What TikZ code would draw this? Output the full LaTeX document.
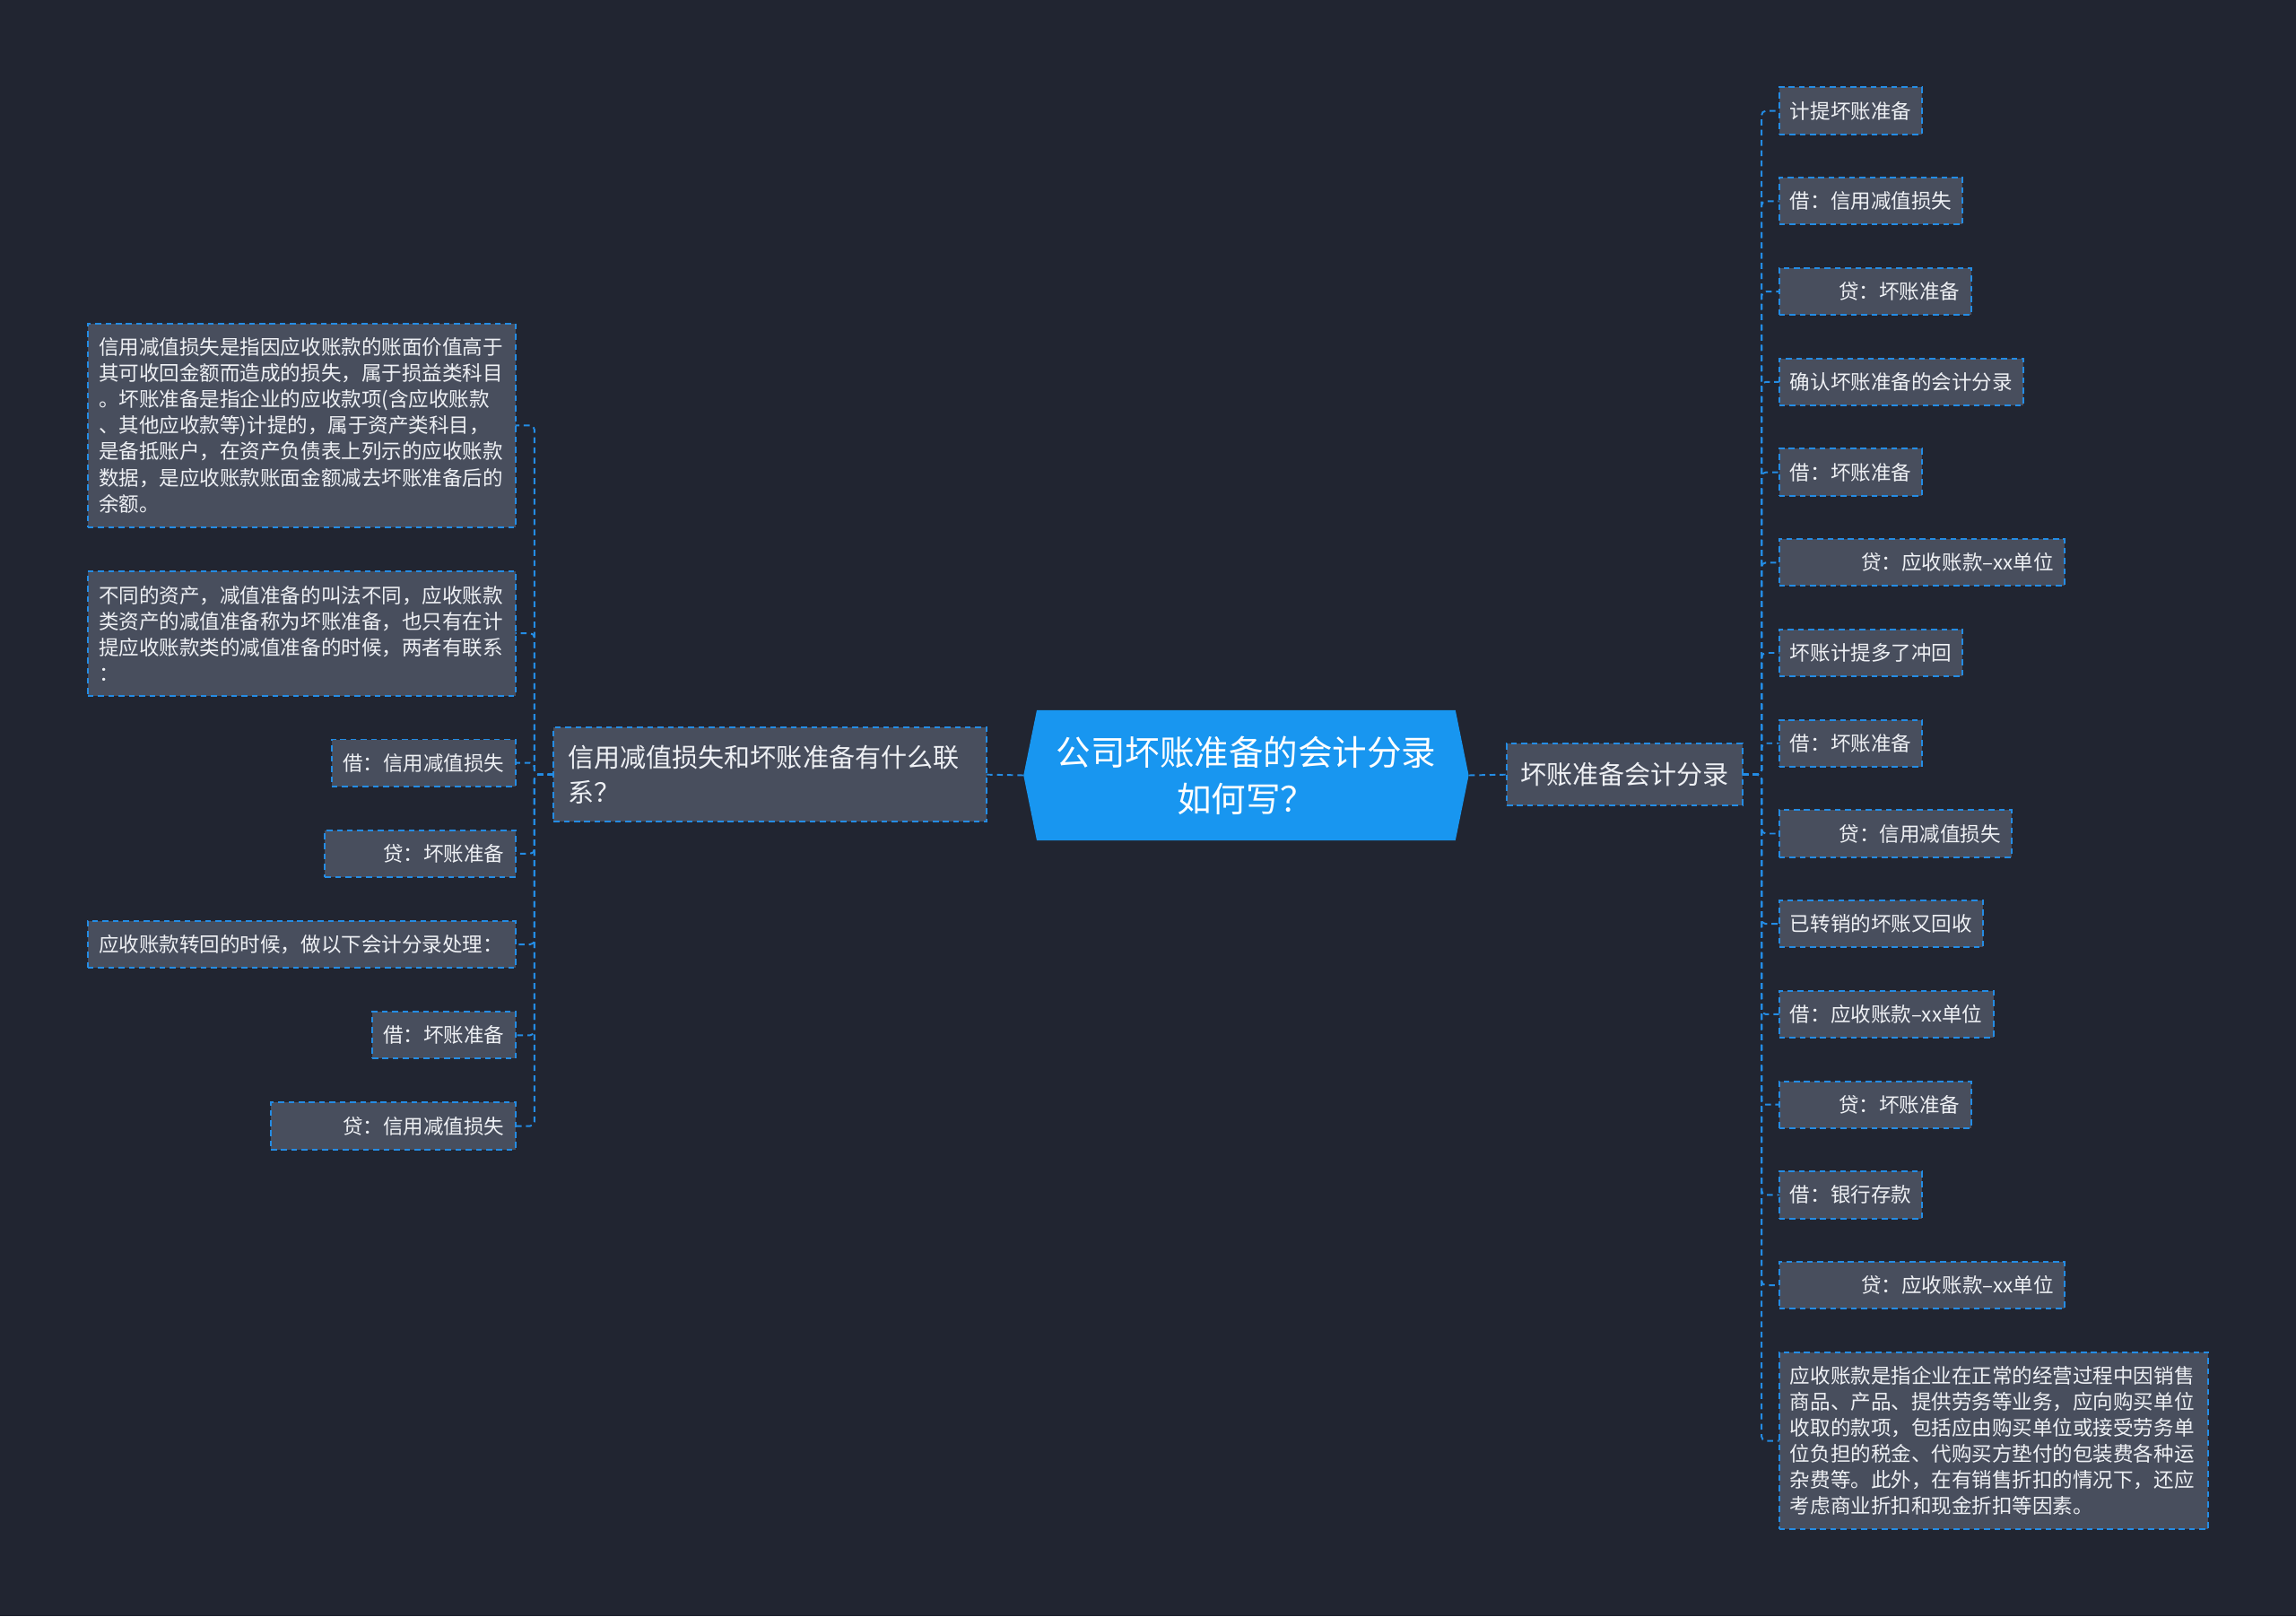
\documentclass[tikz,border=0pt]{standalone}
\usepackage{fontspec}
\setmainfont{Noto Sans CJK SC}
\usetikzlibrary{positioning,shapes.symbols}
\definecolor{bgdark}{RGB}{33,37,49}
\definecolor{nodegray}{RGB}{72,78,93}
\definecolor{lineblue}{RGB}{36,140,228}
\definecolor{rootblue}{RGB}{24,150,240}
\definecolor{textwhite}{RGB}{238,240,244}

\begin{document}
\begin{tikzpicture}[
    x=1pt, y=-1pt,
    root/.style={
        shape=signal,
        signal to=west and east,
        signal pointer angle=157,
        fill=rootblue,
        minimum width=304pt,
        minimum height=89pt,
        inner sep=0pt,
        align=center,
        text=white,
        font=\fontsize{23.6pt}{32pt}\selectfont
    },
    branch/.style={
        draw=lineblue,
        line width=1.2pt,
        dash pattern=on 4pt off 3pt,
        fill=nodegray,
        text=textwhite,
        inner xsep=9.3pt,
        outer sep=0pt,
        minimum height=42pt,
        font=\fontsize{17.8pt}{24pt}\selectfont
    },
    leaf/.style={
        draw=lineblue,
        line width=1.2pt,
        dash pattern=on 4pt off 3pt,
        fill=nodegray,
        text=textwhite,
        inner xsep=7.5pt,
        outer sep=0pt,
        minimum height=32pt,
        font=\fontsize{13.8pt}{17.8pt}\selectfont
    },
    para/.style={
        leaf,
        text width=277pt,
        align=left,
        inner ysep=5pt
    },
    conn/.style={
        draw=lineblue,
        line width=1.2pt,
        dash pattern=on 4pt off 3pt,
        rounded corners=3pt
    }
]

\useasboundingbox (0,0) rectangle (1568,1104);
\fill[bgdark] (0,0) rectangle (1568,1104);

% centre and the two branches
\node[root] (root) at (851,529.5) {公司坏账准备的会计分录\\如何写？};

\node[branch] (rb) at (1109.5,529) {坏账准备会计分录};

\node[branch, text width=276pt, align=left, inner xsep=10pt, minimum height=64pt] (lb) at (526,529) {
    信用减值损失和坏账准备有什么联\\系？
};

% right side
\node[leaf, anchor=west] (r1) at (1215,75.7) {计提坏账准备};
\node[leaf, below=29.7pt of r1.south west, anchor=north west] (r2) {借：信用减值损失};
\node[leaf, text width=116pt, align=right, below=29.7pt of r2.south west, anchor=north west] (r3) {贷：坏账准备};
\node[leaf, below=29.7pt of r3.south west, anchor=north west] (r4) {确认坏账准备的会计分录};
\node[leaf, below=29.7pt of r4.south west, anchor=north west] (r5) {借：坏账准备};
\node[leaf, text width=180pt, align=right, below=29.7pt of r5.south west, anchor=north west] (r6) {贷：应收账款–xx单位};
\node[leaf, below=29.7pt of r6.south west, anchor=north west] (r7) {坏账计提多了冲回};
\node[leaf, below=29.7pt of r7.south west, anchor=north west] (r8) {借：坏账准备};
\node[leaf, text width=144pt, align=right, below=29.7pt of r8.south west, anchor=north west] (r9) {贷：信用减值损失};
\node[leaf, below=29.7pt of r9.south west, anchor=north west] (r10) {已转销的坏账又回收};
\node[leaf, below=29.7pt of r10.south west, anchor=north west] (r11) {借：应收账款–xx单位};
\node[leaf, text width=116pt, align=right, below=29.7pt of r11.south west, anchor=north west] (r12) {贷：坏账准备};
\node[leaf, below=29.7pt of r12.south west, anchor=north west] (r13) {借：银行存款};
\node[leaf, text width=180pt, align=right, below=29.7pt of r13.south west, anchor=north west] (r14) {贷：应收账款–xx单位};
\node[para, text width=278pt, minimum height=121pt, below=29.7pt of r14.south west, anchor=north west] (r15) {
    应收账款是指企业在正常的经营过程中因销售\\
    商品、产品、提供劳务等业务，应向购买单位\\
    收取的款项，包括应由购买单位或接受劳务单\\
    位负担的税金、代购买方垫付的包装费各种运\\
    杂费等。此外，在有销售折扣的情况下，还应\\
    考虑商业折扣和现金折扣等因素。
};

% left side
\node[para, minimum height=139pt, anchor=north east] (l1) at (352,221) {
    信用减值损失是指因应收账款的账面价值高于\\
    其可收回金额而造成的损失，属于损益类科目\\
    。坏账准备是指企业的应收款项(含应收账款\\
    、其他应收款等)计提的，属于资产类科目，\\
    是备抵账户，在资产负债表上列示的应收账款\\
    数据，是应收账款账面金额减去坏账准备后的\\
    余额。
};
\node[para, minimum height=85pt, below=30pt of l1.south east, anchor=north east] (l2) {
    不同的资产，减值准备的叫法不同，应收账款\\
    类资产的减值准备称为坏账准备，也只有在计\\
    提应收账款类的减值准备的时候，两者有联系\\
    ：
};
\node[leaf, below=30pt of l2.south east, anchor=north east] (l3) {借：信用减值损失};
\node[leaf, text width=115pt, align=right, below=30pt of l3.south east, anchor=north east] (l4) {贷：坏账准备};
\node[para, minimum height=32pt, below=30pt of l4.south east, anchor=north east] (l5) {应收账款转回的时候，做以下会计分录处理：};
\node[leaf, below=30pt of l5.south east, anchor=north east] (l6) {借：坏账准备};
\node[leaf, text width=152pt, align=right, below=30pt of l6.south east, anchor=north east] (l7) {贷：信用减值损失};

% connectors
\draw[conn] (root.east) -- (rb.west);
\draw[conn] (root.west) -- (lb.east);

\draw[conn] (rb.east) -- ++(13,0) |- (r1.west);
\draw[conn] (rb.east) -- ++(13,0) |- (r2.west);
\draw[conn] (rb.east) -- ++(13,0) |- (r3.west);
\draw[conn] (rb.east) -- ++(13,0) |- (r4.west);
\draw[conn] (rb.east) -- ++(13,0) |- (r5.west);
\draw[conn] (rb.east) -- ++(13,0) |- (r6.west);
\draw[conn] (rb.east) -- ++(13,0) |- (r7.west);
\draw[conn] (rb.east) -- ++(13,0) |- (r8.west);
\draw[conn] (rb.east) -- ++(13,0) |- (r9.west);
\draw[conn] (rb.east) -- ++(13,0) |- (r10.west);
\draw[conn] (rb.east) -- ++(13,0) |- (r11.west);
\draw[conn] (rb.east) -- ++(13,0) |- (r12.west);
\draw[conn] (rb.east) -- ++(13,0) |- (r13.west);
\draw[conn] (rb.east) -- ++(13,0) |- (r14.west);
\draw[conn] (rb.east) -- ++(13,0) |- (r15.west);

\draw[conn] (lb.west) -- ++(-13,0) |- (l1.east);
\draw[conn] (lb.west) -- ++(-13,0) |- (l2.east);
\draw[conn] (lb.west) -- ++(-13,0) |- (l3.east);
\draw[conn] (lb.west) -- ++(-13,0) |- (l4.east);
\draw[conn] (lb.west) -- ++(-13,0) |- (l5.east);
\draw[conn] (lb.west) -- ++(-13,0) |- (l6.east);
\draw[conn] (lb.west) -- ++(-13,0) |- (l7.east);

\end{tikzpicture}
\end{document}
